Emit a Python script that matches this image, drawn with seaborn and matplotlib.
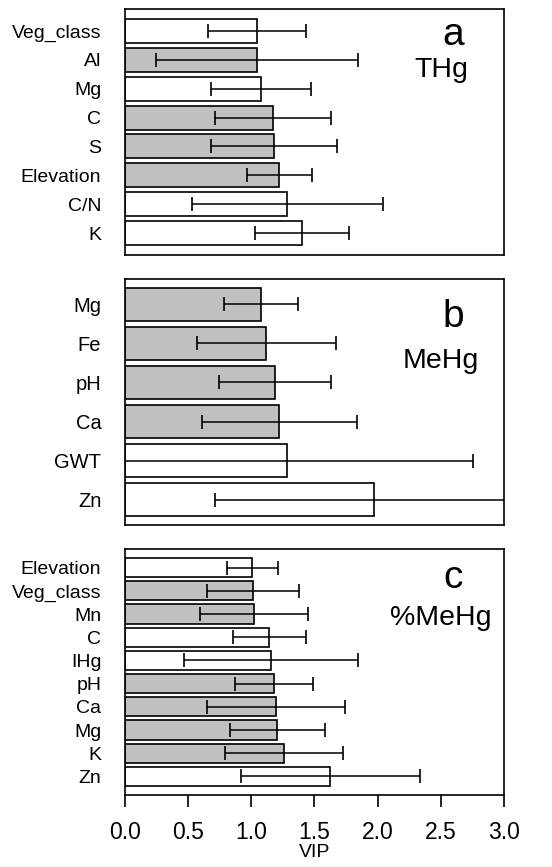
import numpy as np
import matplotlib
matplotlib.use('Agg')
import matplotlib.pyplot as plt
import seaborn as sns

# Panel a - THg
vars_a = ['Veg_class', 'Al', 'Mg', 'C', 'S', 'Elevation', 'C/N', 'K']
vip_a = [1.045, 1.045, 1.074, 1.174, 1.182, 1.222, 1.285, 1.401]
err_a = [0.39, 0.80, 0.395, 0.46, 0.50, 0.26, 0.755, 0.37]
sig_a = [False, True, False, True, True, True, False, False]

# Panel b - MeHg
vars_b = ['Mg', 'Fe', 'pH', 'Ca', 'GWT', 'Zn']
vip_b = [1.08, 1.119, 1.19, 1.222, 1.283, 1.971]
err_b = [0.293, 0.548, 0.442, 0.615, 1.475, 1.258]
sig_b = [True, True, True, True, False, False]

# Panel c - %MeHg
vars_c = ['Elevation', 'Veg_class', 'Mn', 'C', 'IHg', 'pH', 'Ca', 'Mg', 'K', 'Zn']
vip_c = [1.008, 1.016, 1.019, 1.143, 1.156, 1.182, 1.196, 1.206, 1.259, 1.626]
err_c = [0.20, 0.364, 0.426, 0.29, 0.69, 0.308, 0.546, 0.375, 0.466, 0.707]
sig_c = [False, True, True, False, False, True, True, True, True, False]

letras = ['a', 'b', 'c']
titulos = ['THg', 'MeHg', '%MeHg']

sns.set_style('white')
plt.rcParams['font.family'] = ['Liberation Sans', 'DejaVu Sans']
plt.rcParams['text.color'] = 'black'
plt.rcParams['axes.labelcolor'] = 'black'
plt.rcParams['xtick.color'] = 'black'
plt.rcParams['ytick.color'] = 'black'

fig = plt.figure(figsize=(5.52, 8.67), dpi=100)
izq, ancho, alto = 0.2264, 0.6866, 0.2837
ax_a = fig.add_axes([izq, 0.7059, ancho, alto])
ax_b = fig.add_axes([izq, 0.3945, ancho, alto])
ax_c = fig.add_axes([izq, 0.0830, ancho, alto])

paneles = [
    (ax_a, vars_a, vip_a, err_a, sig_a, 0.76, 14, 0.854, 0.722),
    (ax_b, vars_b, vip_b, err_b, sig_b, 0.65, 14.5, 0.806, 0.638),
    (ax_c, vars_c, vip_c, err_c, sig_c, 0.80, 14, 0.841, 0.691),
]

for i, (ax, nombres, vals, errs, sig, margen, fs, y_letra, y_tit) in enumerate(paneles):
    colores = ['#c0c0c0' if s else 'white' for s in sig]
    sns.barplot(x=vals, y=nombres, hue=nombres, palette=colores, legend=False,
                orient='h', width=0.83, edgecolor='black', linewidth=1.2,
                errorbar=None, ax=ax)
    ax.errorbar(vals, np.arange(len(vals)), xerr=errs, fmt='none',
                ecolor='black', elinewidth=1.1, capsize=5, capthick=1.2)
    ax.set_xlim(0, 3.0)
    ax.set_ylim(len(vals) - 1 + margen, -margen)
    ax.set_ylabel('')
    ax.tick_params(axis='y', length=0, pad=17, labelsize=fs)
    for sp in ax.spines.values():
        sp.set_linewidth(1.2)
        sp.set_color('black')
    ax.text(0.865, y_letra, letras[i], transform=ax.transAxes, ha='center',
            va='baseline', fontsize=28)
    ax.text(0.834, y_tit, titulos[i], transform=ax.transAxes, ha='center',
            va='baseline', fontsize=20.5)
    if i < 2:
        ax.set_xticks([])
        ax.set_xlabel('')

ax_c.set_xticks([0.0, 0.5, 1.0, 1.5, 2.0, 2.5, 3.0])
ax_c.set_xticklabels(['0.0', '0.5', '1.0', '1.5', '2.0', '2.5', '3.0'])
ax_c.tick_params(axis='x', direction='out', length=8.5, width=1.2, bottom=True,
                 pad=10, labelsize=16.5)
ax_c.set_xlabel('VIP', fontsize=14, labelpad=0)

plt.savefig('out.png', dpi=100)
